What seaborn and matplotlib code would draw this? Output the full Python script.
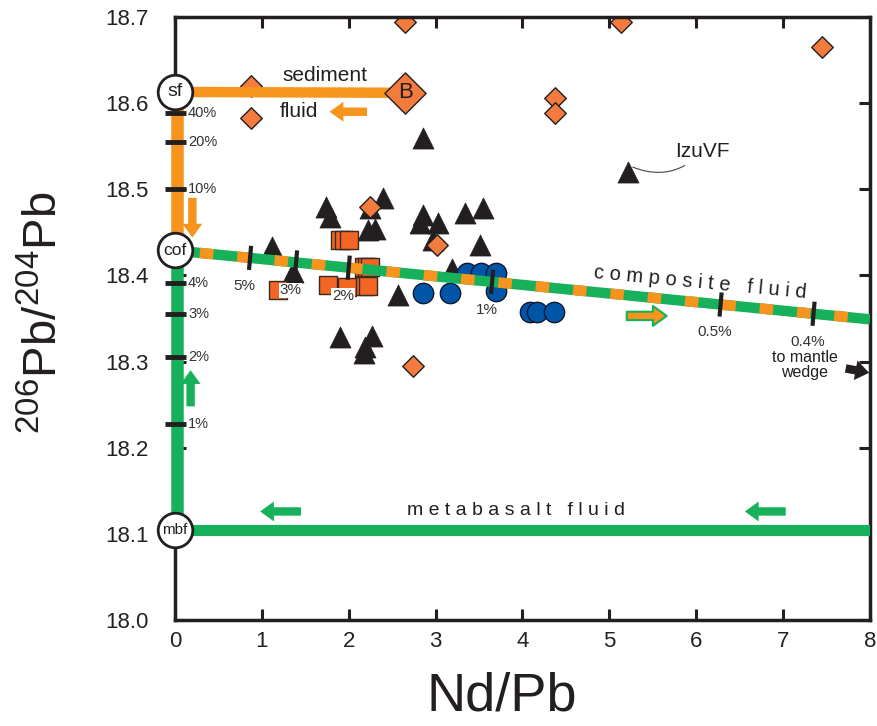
import numpy as np
import pandas as pd
import seaborn as sns
import matplotlib.pyplot as plt

sns.set_style("ticks")
plt.rcParams["font.family"] = ["Liberation Sans", "DejaVu Sans"]
plt.rcParams["mathtext.fontset"] = "custom"
plt.rcParams["mathtext.rm"] = "Liberation Sans"
plt.rcParams["mathtext.it"] = "Liberation Sans:italic"

# colours
ORANGE = "#F7941D"
GREEN = "#16B15A"
DIA_COL = "#F37B3D"
SQ_COL = "#F26522"
BLUE = "#0055A8"
BLACK = "#231F20"

# sample data
dia_x = [2.65, 5.13, 7.45, 0.875, 0.875, 4.37, 4.37, 2.25, 3.02, 2.74]
dia_y = [18.694, 18.694, 18.665, 18.620, 18.583, 18.606, 18.589, 18.480, 18.435, 18.295]

sq_x = [1.90, 1.95, 2.00, 2.18, 2.21, 2.24, 2.18, 2.22, 1.18, 1.76, 1.98]
sq_y = [18.441, 18.441, 18.441, 18.410, 18.410, 18.410, 18.388, 18.388, 18.383, 18.389, 18.386]

circ_x = [2.85, 3.17, 3.36, 3.52, 3.70, 3.70, 4.09, 4.17, 4.36]
circ_y = [18.380, 18.380, 18.403, 18.403, 18.403, 18.382, 18.357, 18.357, 18.357]

tri_x = [2.86, 5.22, 1.74, 1.79, 2.25, 2.40, 2.22, 2.30, 2.86, 2.82, 3.03, 2.97,
         3.34, 3.54, 3.51, 1.12, 1.36, 3.19, 2.57, 1.90, 2.27, 2.19, 2.17]
tri_y = [18.560, 18.520, 18.479, 18.468, 18.478, 18.490, 18.453, 18.454, 18.470,
         18.461, 18.461, 18.441, 18.472, 18.478, 18.435, 18.433, 18.404, 18.407,
         18.377, 18.328, 18.330, 18.317, 18.310]

# end members of the mixing model
bulk_sed = (2.65, 18.612)
sf = (0.0, 18.613)
cof = (0.0, 18.429)
mbf = (0.0, 18.104)
comp_end = (8.0, 18.349)

# % ticks on the vertical mixing line
vert_pct = ["40%", "20%", "10%", "4%", "3%", "2%", "1%"]
vert_pct_y = [18.589, 18.555, 18.500, 18.391, 18.355, 18.305, 18.227]

# % ticks on the composite fluid line
comp_pct = ["5%", "3%", "2%", "1%", "0.5%", "0.4%"]
comp_pct_x = [0.864, 1.394, 2.00, 3.65, 6.28, 7.35]


def comp_y(x):
    return cof[1] + (comp_end[1] - cof[1]) * x / comp_end[0]


fig = plt.figure(figsize=(8.78, 7.26), dpi=100)
ax = fig.add_axes([0.1993, 0.146, 0.7916, 0.8306])

# data points
sns.scatterplot(x=tri_x, y=tri_y, marker="^", s=230, color=BLACK,
                edgecolor=BLACK, linewidth=0.5, ax=ax, zorder=2)
sns.scatterplot(x=sq_x, y=sq_y, marker="s", s=165, color=SQ_COL,
                edgecolor="#3a2a20", linewidth=1, ax=ax, zorder=2)
sns.scatterplot(x=circ_x, y=circ_y, marker="o", s=215, color=BLUE,
                edgecolor="#101830", linewidth=1, ax=ax, zorder=2)
sns.scatterplot(x=dia_x, y=dia_y, marker="D", s=120, color=DIA_COL,
                edgecolor=BLACK, linewidth=1, ax=ax, zorder=2)

# mixing lines
ax.plot([sf[0] + 0.025, cof[0] + 0.025], [sf[1], cof[1]], color=ORANGE, lw=9,
        solid_capstyle="butt", clip_on=False, zorder=3)
ax.plot([cof[0] + 0.025, mbf[0] + 0.025], [cof[1], mbf[1]], color=GREEN, lw=9,
        solid_capstyle="butt", clip_on=False, zorder=3)
ax.plot([sf[0], bulk_sed[0]], [sf[1], bulk_sed[1]], color=ORANGE, lw=7.5,
        solid_capstyle="butt", zorder=3)
ax.plot([mbf[0], 8.0], [mbf[1], mbf[1]], color=GREEN, lw=8,
        solid_capstyle="butt", zorder=3)
ax.plot([cof[0], comp_end[0]], [cof[1], comp_end[1]], color=GREEN, lw=7.5,
        solid_capstyle="butt", zorder=3)
ax.plot([cof[0], comp_end[0]], [cof[1], comp_end[1]], color=ORANGE, lw=7.5,
        linestyle=(1.2, (1.3, 2.3)), dash_capstyle="butt", zorder=3)

# % ticks on the vertical line
for lab, yv in zip(vert_pct, vert_pct_y):
    ax.plot([-0.115, 0.13], [yv, yv], color=BLACK, lw=3.5,
            solid_capstyle="butt", clip_on=False, zorder=4)
    ax.text(0.15, yv, lab, fontsize=10.5, va="center", ha="left",
            color="#333333", zorder=4)

# % ticks on the composite line
for lab, xv in zip(comp_pct, comp_pct_x):
    yv = comp_y(xv)
    ax.plot([xv - 0.012, xv + 0.012], [yv - 0.014, yv + 0.014], color=BLACK,
            lw=3, solid_capstyle="butt", zorder=4)
    bbox = None
    if lab in ("3%", "2%"):
        bbox = dict(facecolor="white", edgecolor="none", pad=0.5)
    ax.annotate(lab, (xv, yv), xytext=(-4, -15), textcoords="offset points",
                fontsize=11, ha="center", va="top", color="#333333",
                bbox=bbox, zorder=4)

# bulk sediment
ax.scatter([bulk_sed[0]], [bulk_sed[1]], marker="D", s=440, color=DIA_COL,
           edgecolor=BLACK, linewidth=1, zorder=5)
ax.text(bulk_sed[0], bulk_sed[1], "B", fontsize=16, ha="center", va="center",
        color=BLACK, zorder=6)

# end-member nodes
for (nx, ny), lab, fs in zip([sf, cof, mbf], ["sf", "cof", "mbf"], [14, 12.5, 11]):
    ax.scatter([nx], [ny], s=620, color="white", edgecolor=BLACK, linewidth=2,
               zorder=7, clip_on=False)
    ax.text(nx, ny, lab, fontsize=fs, ha="center", va="center", color=BLACK,
            zorder=8, clip_on=False)


def arrow(tail, tip, fc, ec=None, lw=0):
    ax.annotate("", xy=tip, xytext=tail,
                arrowprops=dict(arrowstyle="simple,head_width=1.3,head_length=0.9,tail_width=0.55",
                                fc=fc, ec=ec if ec else fc, lw=lw, mutation_scale=11,
                                shrinkA=0, shrinkB=0),
                zorder=6)


arrow((2.21, 18.590), (1.78, 18.590), ORANGE)
arrow((0.20, 18.490), (0.20, 18.444), ORANGE)
arrow((0.18, 18.248), (0.18, 18.290), GREEN)
arrow((1.45, 18.126), (0.98, 18.126), GREEN)
arrow((7.03, 18.126), (6.56, 18.126), GREEN)
arrow((5.20, 18.353), (5.66, 18.353), ORANGE, GREEN, 1.5)
arrow((7.72, 18.292), (7.99, 18.287), BLACK)

# labels
ax.text(1.73, 18.632, "sediment", fontsize=15, ha="center", va="center", color=BLACK)
ax.text(1.21, 18.590, "fluid", fontsize=15, ha="left", va="center", color=BLACK)
ax.text(6.05, 18.392, "c o m p o s i t e   f l u i d", fontsize=14.5, ha="center",
        va="center", rotation=-5.4, rotation_mode="anchor", color=BLACK)
ax.text(3.92, 18.127, "m e t a b a s a l t   f l u i d", fontsize=14, ha="center",
        va="center", color=BLACK)
ax.text(7.25, 18.296, "to mantle\nwedge", fontsize=11.5, ha="center", va="center",
        linespacing=0.95, color=BLACK)
ax.annotate("IzuVF", xy=(5.24, 18.527), xytext=(5.76, 18.544), fontsize=15,
            ha="left", va="center", color=BLACK,
            arrowprops=dict(arrowstyle="-", lw=0.8, color="#444444",
                            connectionstyle="arc3,rad=-0.35", shrinkA=2, shrinkB=2))

# axes
ax.set_xlim(0, 8)
ax.set_ylim(18.0, 18.7)
ax.set_xticks(range(0, 9))
ax.set_yticks([18.0, 18.1, 18.2, 18.3, 18.4, 18.5, 18.6, 18.7])
ax.set_yticklabels(["18.0", "18.1", "18.2", "18.3", "18.4", "18.5", "18.6", "18.7"])
ax.tick_params(axis="both", direction="in", length=8, width=2.2, color=BLACK,
               top=True, right=True, labelsize=16, labelcolor="#222222")
ax.tick_params(axis="y", pad=19)
ax.tick_params(axis="x", pad=8)
for sp in ax.spines.values():
    sp.set_linewidth(2.5)
    sp.set_color(BLACK)

ax.set_xlabel("Nd/Pb", fontsize=39, color=BLACK)
ax.xaxis.set_label_coords(0.47, -0.085)
ax.set_ylabel("$^{206}$Pb/$^{204}$Pb", fontsize=34, color=BLACK)
ax.yaxis.set_label_coords(-0.155, 0.51)

fig.savefig("out.png", dpi=100)
